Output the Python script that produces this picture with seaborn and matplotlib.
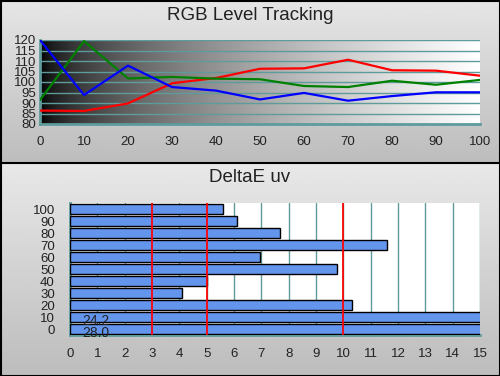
import numpy as np
import pandas as pd
import matplotlib
matplotlib.use("Agg")
import matplotlib.pyplot as plt
import seaborn as sns

sns.set_theme(style="white")
plt.rcParams['font.family'] = ['Liberation Sans', 'DejaVu Sans']

levels = [0, 10, 20, 30, 40, 50, 60, 70, 80, 90, 100]
red = [86.4, 86.2, 89.8, 99.4, 101.9, 106.3, 106.5, 110.6, 105.6, 105.4, 103.0]
green = [91.4, 119.5, 101.7, 102.4, 101.6, 101.3, 98.1, 97.6, 100.6, 98.7, 101.0]
blue = [120.0, 93.8, 107.8, 97.6, 95.9, 91.7, 94.8, 91.1, 93.3, 95.1, 95.1]

de_levels = ['100', '90', '80', '70', '60', '50', '40', '30', '20', '10', '0']
de_values = [5.6, 6.1, 7.7, 11.6, 6.95, 9.75, 5.0, 4.1, 10.3, 24.2, 28.0]
ref_lines = [3, 5, 10]

teal = '#5f9b9b'
txt = '#222222'

fig = plt.figure(figsize=(5, 3.76), dpi=100)

# background panels
bg = fig.add_axes([0, 0, 1, 1], zorder=-10)
g = np.linspace(0, 1, 100).reshape(-1, 1)
bg.imshow(np.repeat(0.90 - 0.16 * g, 2, axis=1), cmap='gray', vmin=0, vmax=1,
          extent=[0, 500, 163, 0], aspect='auto')
bg.imshow(np.repeat(0.91 - 0.17 * g, 2, axis=1), cmap='gray', vmin=0, vmax=1,
          extent=[0, 500, 376, 163], aspect='auto')
bg.plot([0, 500], [163, 163], color='black', lw=1.5)
bg.add_patch(plt.Rectangle((0.5, 0.5), 499, 375, fill=False, ec='black', lw=1.5))
bg.set_xlim(0, 500)
bg.set_ylim(376, 0)
bg.set_axis_off()

fig.text(0.5, 1 - 15 / 376, 'RGB Level Tracking', ha='center', va='center',
         fontsize=13.5, color=txt)
fig.text(0.5, 1 - 178 / 376, 'DeltaE uv', ha='center', va='center',
         fontsize=13.5, color=txt)

# top axes
ax1 = fig.add_axes([40 / 500, 1 - 124 / 376, 440 / 500, 84 / 376])
grad = np.linspace(0, 1, 256).reshape(1, -1) ** 0.6
ax1.imshow(grad, cmap='gray', vmin=0, vmax=1, extent=[0, 100, 80, 120],
           aspect='auto', zorder=0)
df = pd.DataFrame({'level': levels * 3,
                   'value': red + green + blue,
                   'ch': ['R'] * 11 + ['G'] * 11 + ['B'] * 11})
sns.lineplot(data=df, x='level', y='value', hue='ch',
             palette={'R': '#ff0000', 'G': '#008000', 'B': '#0000ff'},
             linewidth=1.6, legend=False, ax=ax1, zorder=3)
ax1.set_xlim(0, 100)
ax1.set_ylim(80, 120)
ax1.set_xticks(levels)
ax1.set_yticks(range(80, 121, 5))
for y in range(85, 121, 5):
    ax1.axhline(y, color=teal, lw=1, zorder=1)
ax1.set_xlabel('')
ax1.set_ylabel('')
for s in ['top', 'right']:
    ax1.spines[s].set_visible(False)
for s in ['left', 'bottom']:
    ax1.spines[s].set_color(teal)
    ax1.spines[s].set_linewidth(2)
ax1.tick_params(axis='x', direction='inout', length=7, width=2, color=teal,
                labelsize=9.5, pad=5, labelcolor=txt)
ax1.tick_params(axis='y', direction='inout', length=6, width=1.5, color=teal,
                labelsize=9.5, pad=0, labelcolor=txt)
ax1.set_facecolor('none')

# bottom axes
ax2 = fig.add_axes([70 / 500, 1 - 335 / 376, 410 / 500, 132 / 376])
ax2.set_facecolor('white')
dfb = pd.DataFrame({'level': de_levels, 'de': de_values})
sns.barplot(data=dfb, y='level', x='de', order=de_levels, orient='h',
            color='#6495ED', saturation=1, edgecolor='black', linewidth=1,
            width=0.83, ax=ax2, zorder=3)
ax2.set_xlim(0, 15)
ax2.set_ylim(10.5, -0.5)
ax2.set_xticks(range(0, 16))
for x in range(1, 16):
    ax2.axvline(x, color=teal, lw=1, zorder=1)
for x in ref_lines:
    ax2.axvline(x, color='#ff0000', lw=1.4, zorder=5, alpha=0.9)
for i, v in enumerate(de_values):
    if v > 15:
        ax2.text(0.45, i + 0.3, f'{v:.1f}', ha='left', va='center',
                 fontsize=10, color=txt, zorder=6)
ax2.set_xlabel('')
ax2.set_ylabel('')
for s in ['top', 'right']:
    ax2.spines[s].set_visible(False)
for s in ['left', 'bottom']:
    ax2.spines[s].set_color(teal)
    ax2.spines[s].set_linewidth(2)
ax2.set_yticks(np.arange(11))
ax2.set_yticklabels(de_levels)
ax2.tick_params(axis='x', direction='inout', length=7, width=2, color=teal,
                labelsize=9.5, pad=6, labelcolor=txt)
ax2.tick_params(axis='y', direction='inout', length=0, labelsize=9.5, pad=11,
                labelcolor=txt)
ax2.set_yticks(np.arange(-0.5, 11, 1), minor=True)
ax2.tick_params(axis='y', which='minor', direction='inout', length=6, width=1.5,
                color=teal)

fig.savefig('out.png', dpi=100)
